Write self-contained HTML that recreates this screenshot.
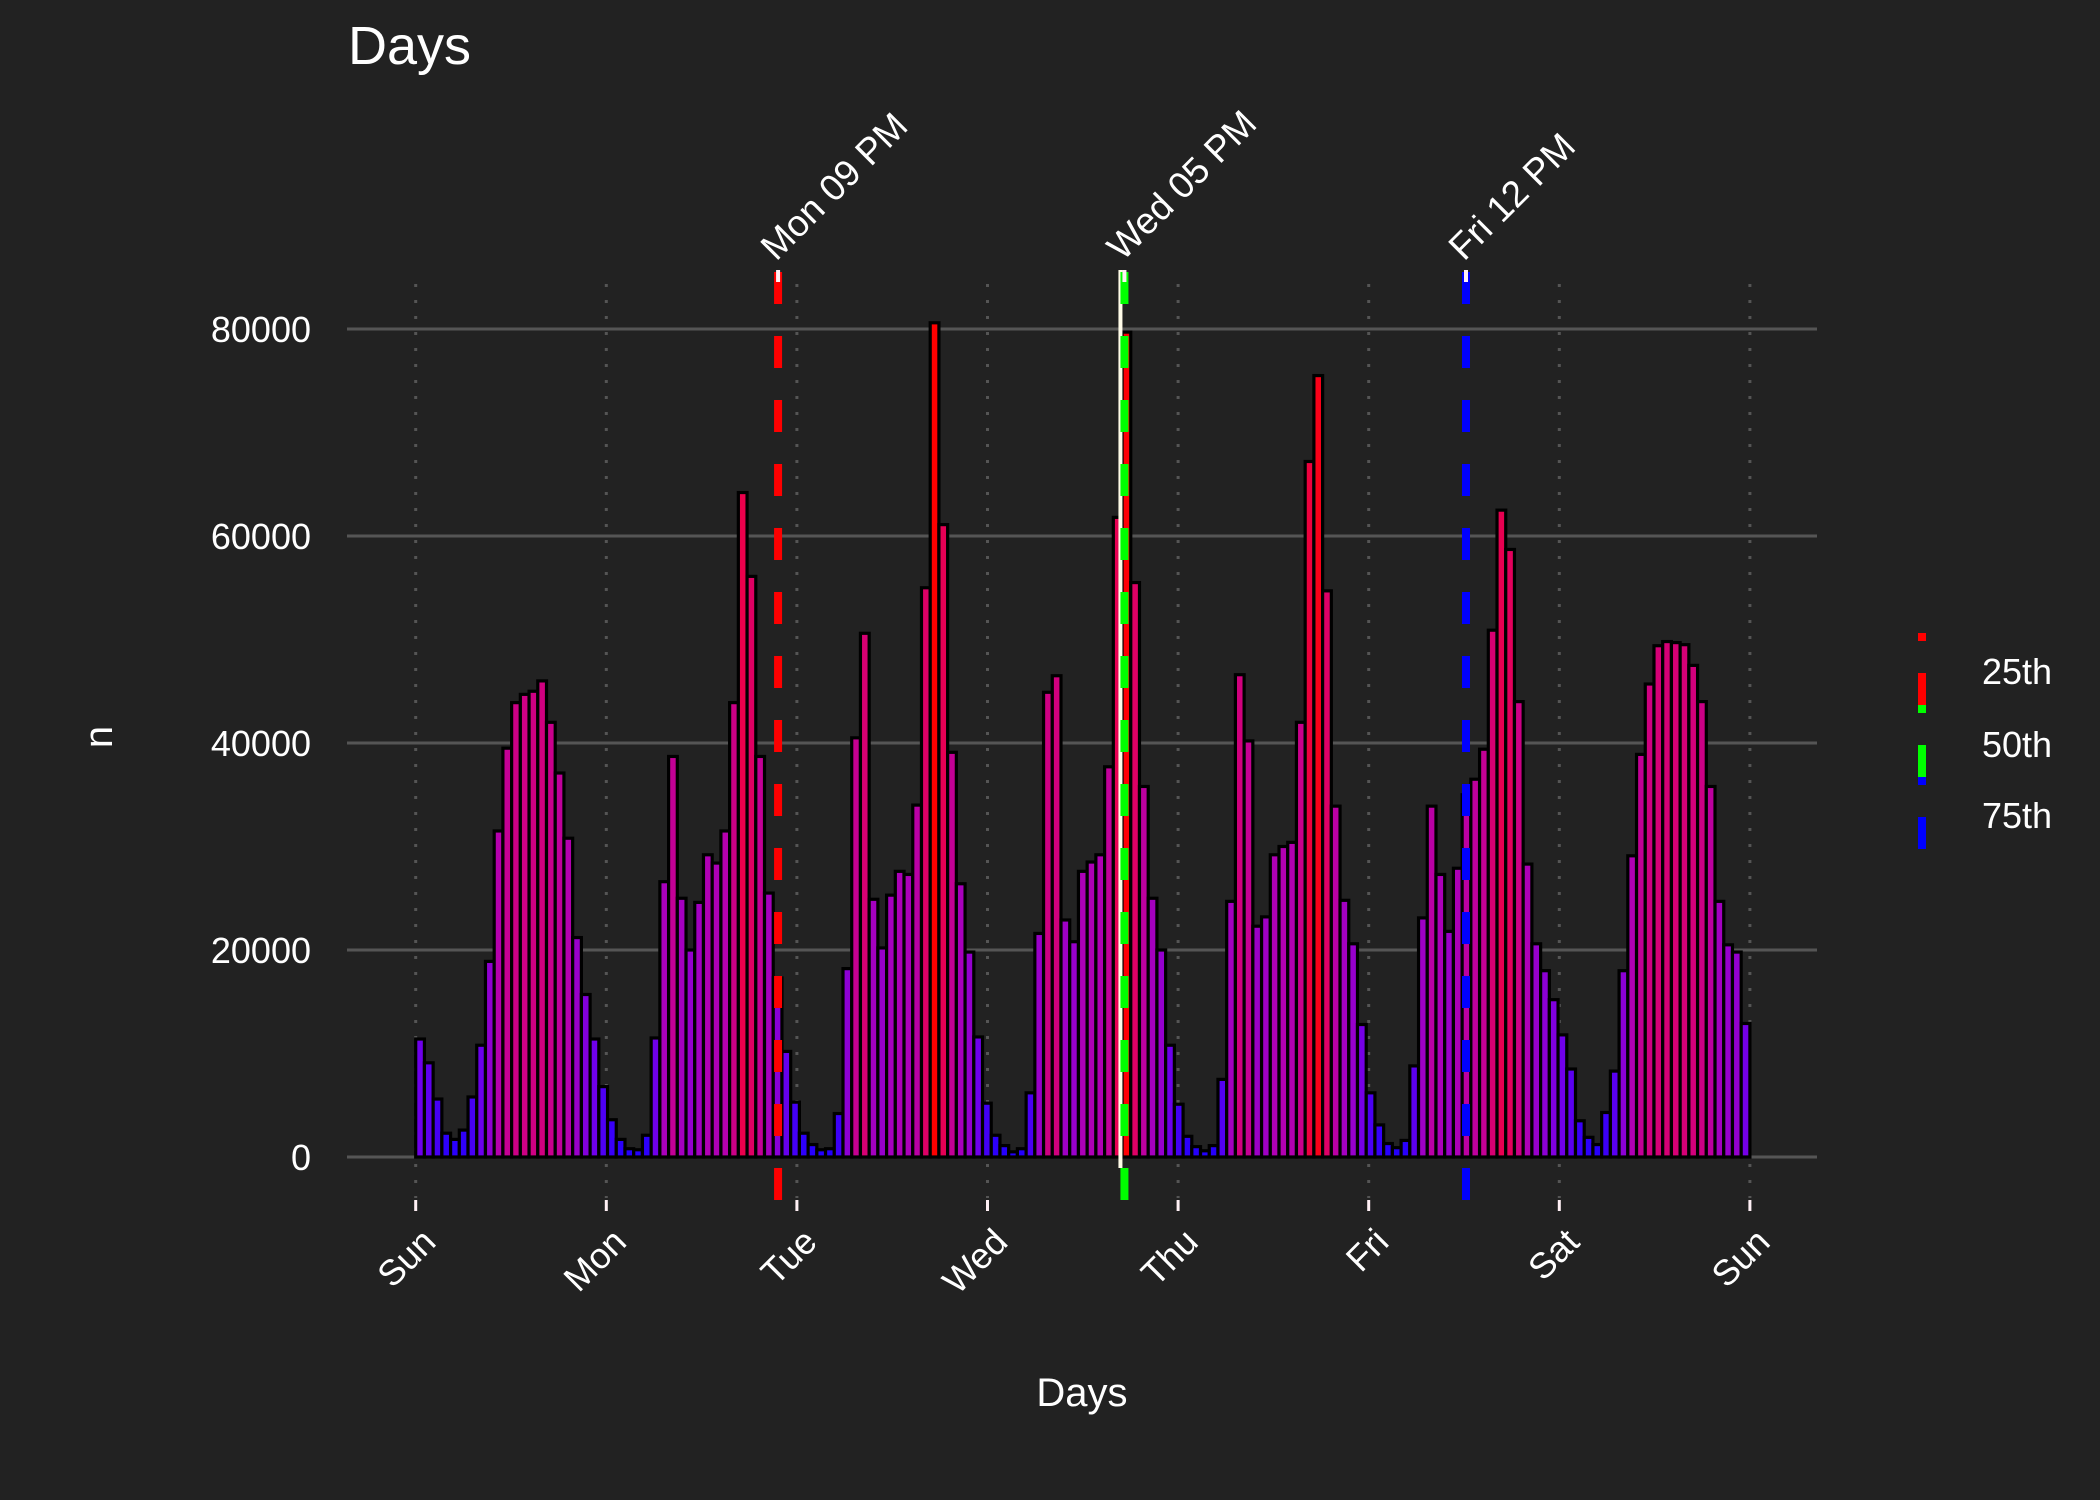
<!DOCTYPE html>
<html><head><meta charset="utf-8"><style>
html,body{margin:0;padding:0;background:#222222;}
svg{display:block;font-family:"Liberation Sans",sans-serif;}
</style></head><body>
<svg id="chart" width="2100" height="1500" viewBox="0 0 2100 1500">
<rect x="0" y="0" width="2100" height="1500" fill="#222222"/>
<text x="348" y="64" font-size="54" fill="#ffffff">Days</text>
<g id="grid"></g>
<g id="bars"></g>
<g id="lines"></g>
<g id="axes"></g>
<text x="1082" y="1406" font-size="40" fill="#ffffff" text-anchor="middle">Days</text>
<text transform="translate(112,737) rotate(-90)" font-size="40" fill="#ffffff" text-anchor="middle">n</text>
<g id="legend">
<rect x="1918" y="633" width="8" height="8" fill="#ff0000"/>
<rect x="1918" y="673" width="8" height="32" fill="#ff0000"/>
<rect x="1918" y="705" width="8" height="8" fill="#00ff00"/>
<rect x="1918" y="745" width="8" height="32" fill="#00ff00"/>
<rect x="1918" y="777" width="8" height="8" fill="#0000ff"/>
<rect x="1918" y="817" width="8" height="32" fill="#0000ff"/>
<text x="1982" y="684" font-size="36" fill="#ffffff">25th</text>
<text x="1982" y="757" font-size="36" fill="#ffffff">50th</text>
<text x="1982" y="828" font-size="36" fill="#ffffff">75th</text>
</g>
</svg>
<script>
const counts = [11.4,9.1,5.6,2.3,1.7,2.6,5.8,10.8,18.9,31.5,39.5,43.9,44.7,45.0,46.0,42.0,37.1,30.8,21.2,15.7,11.4,6.8,3.6,1.7,
0.8,0.7,2.1,11.5,26.6,38.7,25.0,20.0,24.6,29.2,28.4,31.5,43.9,64.2,56.1,38.7,25.5,17.3,10.2,5.3,2.3,1.2,0.7,0.8,
4.2,18.2,40.5,50.6,24.9,20.2,25.3,27.6,27.3,34.0,55.0,80.6,61.1,39.1,26.4,19.8,11.6,5.2,2.1,1.1,0.5,0.8,
6.2,21.6,44.9,46.5,22.9,20.8,27.6,28.5,29.2,37.7,61.8,79.7,55.5,35.8,25.0,20.0,10.8,5.1,2.0,1.0,0.6,1.1,
7.5,24.7,46.6,40.2,22.3,23.2,29.2,30.0,30.4,42.0,67.2,75.5,54.7,33.9,24.8,20.6,12.8,6.2,3.1,1.3,0.9,1.6,
8.8,23.1,33.9,27.3,21.8,27.9,35.0,36.5,39.4,50.9,62.5,58.7,44.0,28.3,20.6,18.0,15.2,11.8,8.5,3.5,1.9,1.2,
4.3,8.3,18.0,29.1,38.9,45.7,49.4,49.8,49.7,49.5,47.5,44.0,35.8,24.7,20.5,19.8,12.9];
const yTicks = [0,20000,40000,60000,80000];
const dayLabels = ["Sun","Mon","Tue","Wed","Thu","Fri","Sat","Sun"];
const quantileNames = ["Mon 09 PM","Wed 05 PM","Fri 12 PM"];
const quantileDays = [1.875,3.708,5.5];
const quantileColors = ["#ff0000","#00ff00","#0000ff"];

const NS="http://www.w3.org/2000/svg";
const X0=415.7, X1=1749.9, Y0=1157, Y80=329;
const xDay = d => X0 + d*(X1-X0)/7;
const yVal = v => Y0 - v*(Y0-Y80)/80000;
function mk(tag, attrs, parent){const e=document.createElementNS(NS,tag);for(const k in attrs)e.setAttribute(k,attrs[k]);parent.appendChild(e);return e;}
const stops=[[0,30,0,255],[0.14,110,0,235],[0.25,150,0,205],[0.37,178,0,178],[0.57,208,0,128],[0.8,235,0,75],[1,255,0,0]];
function col(t){for(let i=1;i<stops.length;i++){if(t<=stops[i][0]){const a=stops[i-1],b=stops[i],f=(t-a[0])/(b[0]-a[0]);return `rgb(${Math.round(a[1]+f*(b[1]-a[1]))},0,${Math.round(a[3]+f*(b[3]-a[3]))})`;}}return "rgb(255,0,0)";}

const grid=document.getElementById('grid');
yTicks.forEach(v=>{
  const l=mk('line',{x1:347,x2:1817,y1:yVal(v),y2:yVal(v),stroke:'#555555','stroke-width':3},grid);
  
  
});
dayLabels.forEach((d,i)=>{
  const l=mk('line',{x1:xDay(i),x2:xDay(i),y1:284,y2:1198,stroke:'#555555','stroke-width':3,'stroke-dasharray':'3 13'},grid);
  
  
});

const bars=document.getElementById('bars');
const maxV=Math.max(...counts);
const pitch=(X1-X0)/counts.length;
counts.forEach((v,i)=>{
  const x=X0+i*pitch, y=yVal(v*1000);
  const r=mk('rect',{x:x,y:y,width:pitch,height:Y0-y,fill:col(v/maxV),stroke:'#000000','stroke-width':3.2},bars);
  
  
});

const lines=document.getElementById('lines');
const wx=xDay(quantileDays[1])-2;
const wl=mk('line',{x1:wx,x2:wx,y1:270,y2:1168,stroke:'#fffbe8','stroke-width':4},lines);


quantileDays.forEach((d,i)=>{
  const x=xDay(d)+(i==0?5:2);
  const l=mk('line',{x1:x,x2:x,y1:272,y2:1200,stroke:quantileColors[i],'stroke-width':8,'stroke-dasharray':'32 32'},lines);
  
  
  const t=mk('line',{x1:x,x2:x,y1:270,y2:282,stroke:'#fff0f5','stroke-width':4},lines);
  
  
  const tx=mk('text',{transform:`translate(${x-2},262) rotate(-45)`,'font-size':37,fill:'#ffffff'},lines);
  tx.textContent=quantileNames[i];
  
  
});

const axes=document.getElementById('axes');
yTicks.forEach(v=>{
  const t=mk('text',{x:311,y:yVal(v)+13,'font-size':36,fill:'#ffffff','text-anchor':'end'},axes);
  t.textContent=String(v);
  
  
});
dayLabels.forEach((d,i)=>{
  const x=xDay(i);
  const tk=mk('line',{x1:x,x2:x,y1:1200,y2:1211,stroke:'#fff0f5','stroke-width':3},axes);
  
  
  const t=mk('text',{transform:`translate(${x+22},1244) rotate(-45)`,'font-size':36,fill:'#ffffff','text-anchor':'end'},axes);
  t.textContent=d;
  
  
});
</script>
</body></html>
